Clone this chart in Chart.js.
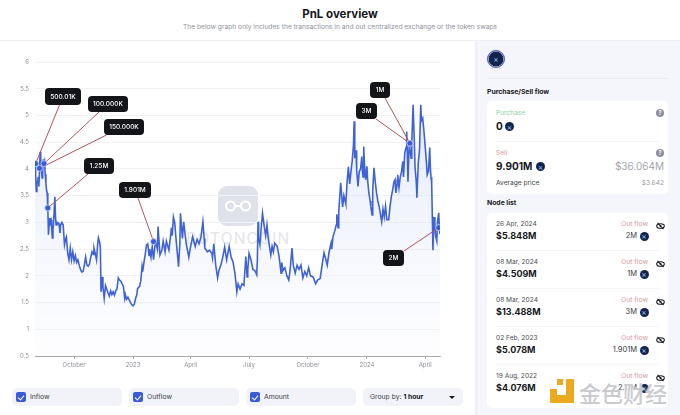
<!DOCTYPE html>
<html>
<head>
<meta charset="utf-8">
<title>PnL overview</title>
<script src="https://cdn.jsdelivr.net/npm/chart.js@4"></script>
<style>
  * { box-sizing: border-box; }
  html, body { margin: 0; padding: 0; background: #fff; }
  body { width: 680px; height: 415px; overflow: hidden; position: relative; font-family: Inter, "Noto Sans", sans-serif; color: #15171c; }
  .abs { position: absolute; white-space: nowrap; }
  #title { left: 0; width: 680px; top: 6px; text-align: center; font-size: 11.5px; font-weight: 700; line-height: 16px; }
  #subtitle { left: 0; width: 680px; top: 22px; text-align: center; font-size: 6.7px; color: #8f929c; line-height: 10px; }
  #headLine { left: 0; top: 40px; width: 680px; height: 1px; background: #eceef2; }
  #chartWrap { position: absolute; left: 0; top: 41px; width: 475px; height: 334px; }
  #wmLogo { position: absolute; left: 218px; top: 145px; }
  #wmText { position: absolute; left: 186px; top: 188px; font-size: 15.5px; letter-spacing: 1.2px; color: #e4e5e9; white-space: nowrap; }
  canvas { position: absolute; left: 0; top: 0; }
  .ctrl { position: absolute; top: 388px; height: 18px; background: #f1f3f8; border-radius: 5px; font-size: 6.8px; line-height: 18px; color: #3b3e47; padding-left: 18px; }
  .ctrl i { position: absolute; left: 4px; top: 4px; width: 10px; height: 10px; background: #3a5bd9; border-radius: 2px; }
  .ctrl i:after { content: ""; position: absolute; left: 3px; top: 1.5px; width: 3px; height: 5px; border: solid #fff; border-width: 0 1.2px 1.2px 0; transform: rotate(40deg); }
  #side { position: absolute; left: 475px; top: 41px; width: 205px; height: 374px; background: #f5f6fb; border-left: 2px solid #eef0f4; }
  .card { position: absolute; left: 487px; width: 181px; background: #fff; border-radius: 5px; }
  .tok { position: absolute; border-radius: 50%; background: #12244e; }
  .tok:after { content: "×"; position: absolute; left: 0; right: 0; top: 50%; transform: translateY(-50%); text-align: center; color: #9cc3f2; font-size: 8px; line-height: 8px; }
  .help { position: absolute; width: 8px; height: 8px; border-radius: 50%; background: #8b8d99; color: #fff; font-size: 6px; line-height: 8px; text-align: center; font-weight: 700; }
  .rule { position: absolute; left: 496px; width: 163px; height: 1px; background: #f3f4f7; }
</style>
</head>
<body>
<div id="title" class="abs">PnL overview</div>
<div id="subtitle" class="abs">The below graph only includes the transactions in and out centralized exchange or the token swaps</div>
<div id="headLine" class="abs"></div>

<div id="chartWrap">
  <svg id="wmLogo" width="40" height="40" viewBox="0 0 40 40">
    <rect width="40" height="40" rx="9" fill="#dfe2e8"/>
    <circle cx="12.5" cy="20" r="4.5" fill="none" stroke="#fff" stroke-width="2"/>
    <circle cx="27.5" cy="20" r="4.5" fill="none" stroke="#fff" stroke-width="2"/>
    <line x1="16" y1="20" x2="24" y2="20" stroke="#fff" stroke-width="2"/>
  </svg>
  <div id="wmText">BOTONCOIN</div>
  <canvas id="pnlChart" width="475" height="334"></canvas>
</div>

<div class="ctrl" style="left:12px;width:110px"><i></i>Inflow</div>
<div class="ctrl" style="left:129px;width:110px"><i></i>Outflow</div>
<div class="ctrl" style="left:246px;width:110px"><i></i>Amount</div>
<div class="ctrl" style="left:363px;width:100px;padding-left:7px">Group by: <b style="color:#15171c">1 hour</b>
  <span style="position:absolute;right:8px;top:8px;width:0;height:0;border:3px solid transparent;border-top-color:#15171c"></span></div>

<div id="side"></div>
<div id="sideContent"></div>

<script>
// Price series. Days are counted from 1 Aug 2022
const days = [0,1,2,3,4,5,6,7,8,9,10,11,12,13,14,15,16,17,18,19,20,21,22,23,24,25,26,27,28,29,31,32,33,34,36,37,38,39,40,42,44,46,48,49,51,53,55,57,59,61,63,65,67,69,71,73,75,77,79,81,83,85,87,89,91,92,94,96,98,99,101,102,103,105,106,108,110,112,114,116,118,120,122,124,126,128,130,132,134,136,138,140,141,143,145,147,149,151,153,155,157,159,160,163,165,167,168,170,172,174,176,178,179,181,183,185,187,189,191,192,195,198,200,203,205,209,213,214,216,218,220,224,226,227,230,232,234,236,240,242,246,250,253,256,259,262,264,265,269,272,276,277,279,282,285,287,290,293,296,299,303,306,309,312,315,317,320,323,326,329,331,332,334,337,340,343,346,347,348,349,351,353,355,358,360,362,364,368,370,372,374,378,381,384,385,387,390,393,396,398,401,403,406,409,412,415,418,421,424,427,430,434,438,441,445,448,451,454,456,459,462,463,465,468,470,471,473,474,477,479,480,482,484,485,487,489,491,493,495,497,498,499,501,502,504,506,508,510,511,512,513,514,516,518,519,521,523,524,526,527,529,531,533,535,537,538,541,543,545,547,549,552,554,556,558,560,562,563,565,566,568,570,572,574,575,577,579,580,581,582,584,585,587,588,590,592,593,595,596,598,600,602,603,605,607,609,611,612,614,616,617,618,619,620,621,622,623,624,625,627,628,630,631,632];
const prices = [4.10,3.9,3.58,3.72,3.76,3.85,3.67,3.95,4.32,4.12,3.98,3.83,3.95,4.18,4.05,4.12,3.9,3.74,3.6,3.55,3.27,2.77,2.95,3.08,3.02,3.05,2.9,2.71,2.85,3.0,3.48,3.1,2.95,3.0,2.97,3.0,2.92,2.8,2.95,3.0,2.95,2.58,2.7,2.73,2.43,2.3,2.52,2.3,2.45,2.28,2.38,2.25,2.3,2.2,2.12,2.07,2.08,2.2,2.35,2.2,2.18,2.22,2.35,2.45,2.4,2.52,2.42,2.3,2.62,2.71,2.62,2.52,1.7,1.98,1.8,1.58,1.82,1.75,1.68,1.62,1.72,1.65,1.7,1.64,1.72,1.76,1.96,1.92,1.9,1.85,1.8,1.58,1.65,1.56,1.6,1.55,1.5,1.46,1.44,1.47,1.58,1.65,1.76,1.8,1.9,2.17,2.08,2.25,2.4,2.58,2.6,2.38,2.5,2.35,2.55,2.3,2.55,2.6,2.5,2.92,2.39,2.48,2.65,2.45,2.65,2.48,2.9,2.75,3.1,3.0,2.7,2.17,2.6,3.17,2.7,3.01,2.8,2.6,2.35,2.5,2.73,2.55,2.68,2.6,2.72,3.01,2.7,2.52,2.45,2.48,2.42,2.34,2.6,2.2,1.96,2.1,2.2,2.35,2.54,2.3,2.55,2.35,2.26,2.05,1.7,1.85,1.75,1.85,1.82,2.36,1.98,2.1,2.42,2.3,2.12,2.1,2.02,2.3,3.01,2.7,2.58,2.9,3.17,2.9,2.75,2.95,2.7,2.39,2.55,2.45,2.61,2.55,2.35,2.05,2.25,2.1,2.15,2.0,1.92,2.1,2.52,2.2,2.05,2.2,2.12,2.2,1.96,2.08,2.0,2.15,2.0,1.98,1.85,1.92,1.95,2.2,2.43,2.3,2.2,2.45,2.61,2.5,2.73,2.85,2.95,3.15,2.9,3.2,3.74,3.45,3.29,3.5,3.4,3.35,3.75,4.04,3.72,3.95,4.15,4.45,4.89,4.2,4.35,3.98,3.67,3.95,4.0,4.23,3.95,3.85,4.42,4.1,3.8,4.05,3.8,3.55,3.4,3.3,3.14,3.6,4.02,3.75,3.55,3.4,3.3,3.3,3.01,3.25,3.1,3.3,3.05,3.05,3.3,3.48,3.6,3.75,3.8,3.55,3.7,3.89,3.65,3.85,3.95,4.14,3.85,4.3,4.4,4.7,4.3,3.76,4.5,4.38,4.2,4.5,5.2,4.5,4.04,3.75,3.46,4.1,4.35,5.2,4.9,4.95,4.7,4.4,4.1,3.89,3.95,4.4,4.0,3.85,3.74,3.11,2.48,2.9,3.1,2.95,2.75,2.65,3.0,3.18,2.9,2.78];

// Axis ticks
const yTicks = [0.5,1,1.5,2,2.5,3,3.5,4,4.5,5,5.5,6];
const xTickDays = [61,153,243,334,426,518,609];
const xTickLabels = ['October','2023','April','July','October','2024','April'];

// Transfer nodes on the line
const nodeDays = [1,14,7,20,185,585,585,630];
const nodePrices = [4.1,4.1,4.01,3.27,2.64,4.48,4.48,2.9];
const nodeLabels = ['500.01K','100.000K','150.000K','1.25M','1.901M','3M','1M','2M'];

// Side panel rows
const rowDates = ['26 Apr, 2024','08 Mar, 2024','08 Mar, 2024','02 Feb, 2023','19 Aug, 2022'];
const rowValues = ['$5.848M','$4.509M','$13.488M','$5.078M','$4.076M'];
const rowAmounts = ['2M','1M','3M','1.901M','2.11M'];

// Where the label boxes sit on the canvas (page y minus 41)
const labelBoxes = [
  { x: 45, y: 47, w: 36, h: 17, lx: 59.5, ly: 64 },
  { x: 88, y: 55, w: 40, h: 16, lx: 99, ly: 71 },
  { x: 104, y: 78, w: 40, h: 16, lx: 106.5, ly: 94 },
  { x: 84, y: 117, w: 30, h: 16, lx: 88, ly: 133 },
  { x: 119, y: 141, w: 32, h: 16, lx: 138, ly: 157 },
  { x: 356, y: 62, w: 21, h: 16, lx: 376, ly: 78 },
  { x: 370, y: 41, w: 20, h: 16, lx: 385, ly: 57 },
  { x: 383, y: 209, w: 21, h: 16, lx: 404, ly: 210 }
];

// Red leader lines go under the markers, dark label boxes on top of everything
const nodeLabelPlugin = {
  id: 'nodeLabels',
  beforeDatasetDraw(chart, args) {
    if (args.index !== 0) return;
    const ctx = chart.ctx;
    const xs = chart.scales.x;
    const ys = chart.scales.y;
    ctx.save();
    nodeLabels.forEach((text, i) => {
      const box = labelBoxes[i];
      ctx.strokeStyle = '#b5525a';
      ctx.lineWidth = 1;
      ctx.beginPath();
      ctx.moveTo(box.lx, box.ly);
      ctx.lineTo(xs.getPixelForValue(nodeDays[i]), ys.getPixelForValue(nodePrices[i]));
      ctx.stroke();
    });
    ctx.restore();
  },
  afterDatasetsDraw(chart) {
    const ctx = chart.ctx;
    ctx.save();
    nodeLabels.forEach((text, i) => {
      const box = labelBoxes[i];
      ctx.fillStyle = '#141518';
      ctx.beginPath();
      ctx.roundRect(box.x, box.y, box.w, box.h, 4);
      ctx.fill();
      ctx.fillStyle = '#fff';
      ctx.font = '500 6.5px Inter';
      ctx.textAlign = 'center';
      ctx.textBaseline = 'middle';
      ctx.fillText(text, box.x + box.w / 2, box.y + box.h / 2 + 0.5);
    });
    ctx.restore();
  }
};

const lineData = days.map((d, i) => ({ x: d, y: prices[i] }));
const nodeData = nodeDays.map((d, i) => ({ x: d, y: nodePrices[i] }));

new Chart(document.getElementById('pnlChart'), {
  type: 'line',
  data: {
    datasets: [
      {
        label: 'Nodes',
        data: nodeData,
        showLine: false,
        pointRadius: 3,
        pointBackgroundColor: '#3a5bd9',
        pointBorderColor: '#c9d4f5',
        pointBorderWidth: 0.8,
        order: 0
      },
      {
        label: 'Price',
        data: lineData,
        borderColor: '#3f63d6',
        borderWidth: 1.6,
        pointRadius: 0,
        tension: 0,
        fill: 'start',
        order: 1,
        backgroundColor(context) {
          const area = context.chart.chartArea;
          if (!area) return 'transparent';
          const g = context.chart.ctx.createLinearGradient(0, area.top + 50, 0, area.bottom);
          g.addColorStop(0, 'rgba(205,215,245,0.5)');
          g.addColorStop(1, 'rgba(225,232,250,0.05)');
          return g;
        }
      }
    ]
  },
  options: {
    responsive: false,
    animation: false,
    layout: { padding: { top: 21, right: 35, left: 0, bottom: 0 } },
    plugins: { legend: { display: false }, tooltip: { enabled: false } },
    scales: {
      x: {
        type: 'linear',
        min: 0,
        max: 632,
        afterBuildTicks(axis) { axis.ticks = xTickDays.map(v => ({ value: v })); },
        afterFit(axis) { axis.height = 19; },
        ticks: {
          autoSkip: false,
          maxRotation: 0,
          padding: 3,
          color: '#8d9097',
          font: { size: 6, family: 'Inter' },
          callback(value) { return xTickLabels[xTickDays.indexOf(value)]; }
        },
        grid: { drawOnChartArea: false, drawTicks: true, tickLength: 3, color: '#b4b6bb' },
        border: { color: '#a9abb0', width: 1 }
      },
      y: {
        min: 0.5,
        max: 6,
        afterBuildTicks(axis) { axis.ticks = yTicks.map(v => ({ value: v })); },
        afterFit(axis) { axis.width = 35; },
        ticks: {
          padding: 6,
          color: '#8d9097',
          font: { size: 6, family: 'Inter' },
          callback(value) { return value; }
        },
        grid: { color: '#f1f2f5', drawTicks: false },
        border: { display: false }
      }
    }
  },
  plugins: [nodeLabelPlugin]
});

// Side panel
function addText(text, x, y, css) {
  const el = document.createElement('div');
  el.className = 'abs';
  el.textContent = text;
  el.style.cssText = `top:${y}px;${x >= 0 ? 'left:' + x + 'px' : 'right:' + (-x) + 'px'};line-height:10px;${css}`;
  document.getElementById('sideContent').appendChild(el);
  return el;
}
function addBox(cls, css, text) {
  const el = document.createElement('div');
  el.className = cls;
  el.style.cssText = css;
  if (text) el.textContent = text;
  document.getElementById('sideContent').appendChild(el);
  return el;
}
function addEye(x, y) {
  const el = document.createElement('div');
  el.className = 'abs';
  el.style.cssText = `left:${x}px;top:${y}px;line-height:0`;
  el.innerHTML = '<svg width="9" height="8" viewBox="0 0 9 8"><ellipse cx="4.5" cy="4" rx="3.8" ry="2.3" fill="none" stroke="#1b1c20" stroke-width="1.1"/><circle cx="4.5" cy="4" r="1" fill="#1b1c20"/><line x1="1.5" y1="0.8" x2="7.5" y2="7.2" stroke="#1b1c20" stroke-width="1.1"/></svg>';
  document.getElementById('sideContent').appendChild(el);
}

addBox('tok', 'left:487px;top:50px;width:18px;height:18px;border:1.5px solid #5a63c8;box-shadow:0 0 0 0.5px #fff inset');
addBox('rule', 'left:488px;top:78px;width:180px;background:#e9ebf0');
addText('Purchase/Sell flow', 487, 87, 'font-size:6.8px;font-weight:700');
addBox('card', 'top:101px;height:93px');
addText('Purchase', 496, 108, 'font-size:6.6px;color:#8fd0a2');
addBox('help', 'left:656px;top:109px', '?');
addText('0', 496, 121, 'font-size:10px;font-weight:700');
addBox('tok', 'left:505px;top:122px;width:9px;height:9px');
addBox('rule', 'top:141px');
addText('Sell', 496, 148, 'font-size:6.6px;color:#e59a9f');
addBox('help', 'left:656px;top:149px', '?');
addText('9.901M', 496, 161, 'font-size:10px;font-weight:700');
addBox('tok', 'left:536px;top:162px;width:9px;height:9px');
addText('$36.064M', -16, 161, 'font-size:10px;color:#a3a5ad');
addText('Average price', 496, 178, 'font-size:6.6px;color:#3b3e47');
addText('$3.642', -16, 178, 'font-size:6.6px;color:#9a9ca5');
addText('Node list', 487, 198, 'font-size:6.8px;font-weight:700');
addBox('card', 'top:213px;height:195px');

rowDates.forEach((date, i) => {
  const top = 219 + i * 38.1;
  addText(date, 496, top, 'font-size:6.6px;color:#4a4d56');
  addText(rowValues[i], 496, top + 12, 'font-size:9px;font-weight:700');
  addText('Out flow', -32, top, 'font-size:6.8px;color:#e0999e');
  addText(rowAmounts[i], -43, top + 12, 'font-size:7.5px;color:#3b3e47');
  addBox('tok', `left:639.5px;top:${top + 12.5}px;width:9px;height:9px`);
  addEye(656, top + 3);
  if (i < 4) addBox('rule', `top:${top + 31}px`);
});

// Source watermark, bottom right
const mark = document.createElement('div');
mark.className = 'abs';
mark.style.cssText = 'left:550px;top:379px;width:24px;height:24px;line-height:0';
mark.innerHTML = '<svg width="24" height="24" viewBox="0 0 24 24"><rect x="16" y="0" width="8" height="24" rx="1" fill="#eba91f"/><rect x="0" y="16" width="24" height="8" rx="1" fill="#eba91f"/><rect x="0" y="10" width="7" height="6" fill="#eba91f"/><rect x="7" y="0" width="6" height="6" fill="#eba91f"/></svg>';
document.getElementById('sideContent').appendChild(mark);
addText('金色财经', 579, 381, 'font-family:"Noto Sans CJK SC";font-size:22px;line-height:22px;color:#c9cbcf;font-weight:500;text-shadow:0 0 2px #fff');
</script>
</body>
</html>
